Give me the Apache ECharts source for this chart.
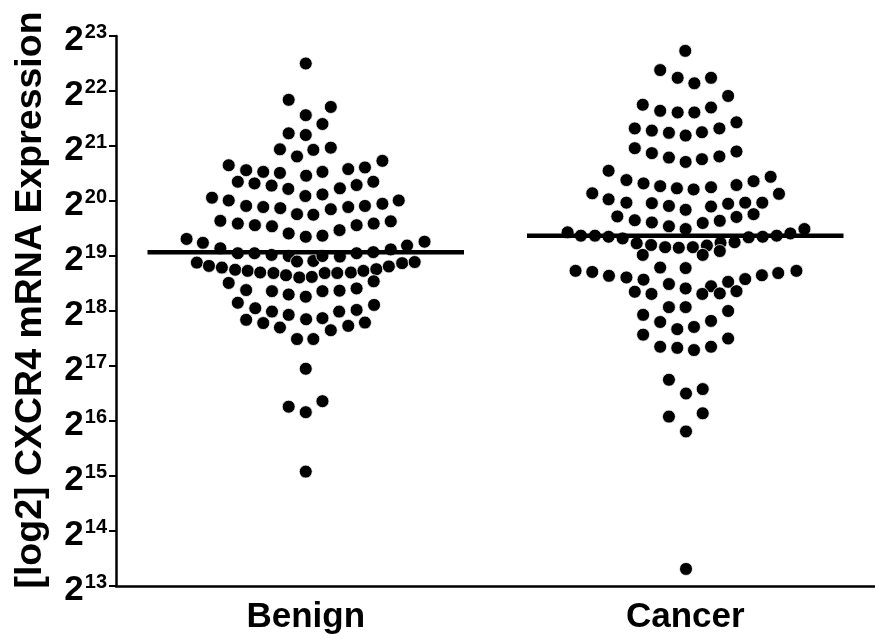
<!DOCTYPE html>
<html>
<head>
<meta charset="utf-8">
<script src="https://cdn.jsdelivr.net/npm/echarts@6/dist/echarts.min.js"></script>
<style>html,body{margin:0;padding:0;background:#fff}#c{width:875px;height:639px}</style>
</head>
<body>
<div id="c"></div>
<script>
var categories = ['Benign', 'Cancer'];
var yExponents = [13, 14, 15, 16, 17, 18, 19, 20, 21, 22, 23];
var yTitle = '[log2] CXCR4 mRNA Expression';

// log2 expression values
var benignValues = [
22.50,21.84,21.71,21.56,21.40,21.23,21.20,20.94,20.81,20.93,20.97,
20.65,20.56,20.53,20.51,20.46,20.53,20.58,20.61,20.73,
20.35,20.32,20.28,20.22,20.09,20.12,20.23,20.29,20.35,
20.06,20.01,19.91,19.89,19.87,19.76,19.75,19.85,19.89,19.91,19.95,20.01,
19.64,19.59,19.56,19.54,19.41,19.35,19.37,19.47,19.56,19.59,19.63,
19.31,19.24,19.14,19.05,19.05,19.02,19.00,18.90,18.91,19.00,18.99,19.05,19.07,19.12,19.19,19.26,
18.88,18.82,18.79,18.75,18.73,18.70,18.69,18.65,18.61,18.62,18.69,18.69,18.70,18.73,18.76,18.81,18.87,18.89,
18.51,18.38,18.36,18.30,18.26,18.36,18.37,18.41,18.54,
18.15,18.05,17.99,17.93,17.85,17.87,17.99,18.02,18.11,
17.84,17.78,17.70,17.49,17.49,17.65,17.73,17.79,
16.95,16.26,16.36,16.16,15.08
];
// horizontal scatter offset of each dot, in category widths
var benignJitter = [
0,-0.045,0.066,0,0.044,-0.045,0,-0.068,-0.023,0.020,0.066,
-0.203,-0.157,-0.112,-0.068,0.001,0.044,0.112,0.156,0.202,
-0.179,-0.135,-0.090,-0.046,-0.001,0.044,0.090,0.134,0.178,
-0.247,-0.203,-0.157,-0.112,-0.067,-0.023,0.020,0.066,0.112,0.156,0.202,0.245,
-0.225,-0.179,-0.134,-0.089,-0.045,0,0.044,0.089,0.134,0.179,0.224,
-0.314,-0.271,-0.225,-0.179,-0.135,-0.090,-0.045,-0.023,0.020,0.044,0.090,0.134,0.178,0.224,0.267,0.313,
-0.287,-0.255,-0.221,-0.186,-0.153,-0.120,-0.085,-0.052,-0.017,0.016,0.050,0.083,0.119,0.152,0.186,0.219,0.254,0.287,
-0.203,-0.157,-0.089,-0.045,0,0.044,0.089,0.134,0.179,
-0.179,-0.133,-0.089,-0.045,0.001,0.044,0.088,0.134,0.180,
-0.157,-0.112,-0.068,-0.023,0.020,0.066,0.112,0.156,
0,-0.045,0.044,0,0
];
var cancerValues = [
22.73,22.38,22.24,22.14,22.24,21.91,
21.75,21.64,21.61,21.61,21.70,
21.32,21.28,21.24,21.19,21.25,21.32,21.43,
20.96,20.87,20.79,20.71,20.76,20.81,20.90,
20.55,20.38,20.32,20.27,20.23,20.21,20.25,20.29,20.36,20.44,
20.14,20.03,19.97,19.96,19.91,19.84,19.90,19.95,19.97,19.97,20.13,
19.72,19.65,19.61,19.54,19.49,19.60,19.64,19.71,19.76,
19.43,19.37,19.37,19.35,19.32,19.23,19.20,19.16,19.15,19.16,19.19,19.24,19.25,19.34,19.35,19.37,19.41,19.49,
19.02,19.02,19.09,
18.73,18.71,18.64,18.61,18.57,18.49,18.41,18.45,18.53,18.58,18.65,18.69,18.73,
18.79,18.78,
18.35,18.31,18.31,18.32,18.36,
18.07,18.07,18.00,
17.93,17.80,17.67,17.71,17.82,
17.57,17.35,17.33,17.29,17.35,17.50,
16.75,16.50,16.58,16.08,16.14,15.81,13.31
];
var cancerJitter = [
0,-0.066,-0.020,0.024,0.068,0.113,
-0.112,-0.066,-0.020,0.024,0.068,
-0.133,-0.088,-0.043,0.001,0.044,0.090,0.135,
-0.133,-0.088,-0.043,0.001,0.044,0.090,0.135,
-0.202,-0.155,-0.110,-0.066,-0.022,0.022,0.068,0.135,0.180,0.225,
-0.245,-0.202,-0.155,-0.088,-0.043,0.001,0.068,0.113,0.158,0.203,0.247,
-0.179,-0.133,-0.088,-0.043,0.001,0.046,0.091,0.135,0.180,
-0.310,-0.275,-0.238,-0.202,-0.165,-0.128,-0.090,-0.053,-0.017,0.020,0.057,0.093,0.130,0.167,0.204,0.241,0.277,0.314,
-0.112,0.046,0.091,
-0.289,-0.245,-0.201,-0.155,-0.110,-0.043,0.001,0.068,0.113,0.158,0.202,0.245,0.293,
-0.066,0.001,
-0.133,-0.089,0.045,0.091,0.135,
-0.043,0.001,0.113,
-0.111,-0.066,-0.021,0.023,0.068,
-0.111,-0.066,-0.021,0.023,0.068,0.113,
-0.043,0.002,0.046,-0.043,0.046,0.002,0.002
];
var meanValues = [19.07, 19.37];

var FONT = '"Liberation Sans", Arial, Helvetica, sans-serif';
var lineHalf = 0.417;

function pts(values, jitter, idx) {
  return values.map(function (v, i) { return [idx + 0.5 + jitter[i], v]; });
}
var groups = [[benignValues, benignJitter], [cancerValues, cancerJitter]];

var series = [];
groups.forEach(function (g, idx) {
  series.push({
    type: 'line', xAxisIndex: 1, yAxisIndex: 0, symbol: 'none', silent: true,
    data: [[idx + 0.5 - lineHalf, meanValues[idx]], [idx + 0.5 + lineHalf, meanValues[idx]]],
    lineStyle: { color: '#000', width: 4.5 }, z: 3
  });
  series.push({
    type: 'scatter', xAxisIndex: 1, yAxisIndex: 0, symbol: 'circle', symbolSize: 13,
    data: pts(g[0], g[1], idx),
    itemStyle: { color: '#000', borderColor: '#fff', borderWidth: 0.8, opacity: 1 }, z: 2
  });
});

var chart = echarts.init(document.getElementById('c'), null, { renderer: 'canvas' });
chart.setOption({
  backgroundColor: '#fff',
  animation: false,
  grid: { left: 116, top: 36, width: 762, bottom: 53, containLabel: false },
  xAxis: [{
    type: 'category', data: categories, boundaryGap: true, position: 'bottom',
    axisLine: { lineStyle: { color: '#000', width: 2.5 } },
    axisTick: { alignWithLabel: true, length: 7, lineStyle: { color: '#000', width: 2 } },
    axisLabel: { color: '#000', fontFamily: FONT, fontWeight: 'bold', fontSize: 35, margin: 14 },
    splitLine: { show: false }
  }, {
    type: 'value', min: 0, max: 2, show: false, splitLine: { show: false }
  }],
  yAxis: [{
    type: 'value', min: 13, max: 23, interval: 1,
    name: yTitle, nameLocation: 'middle', nameRotate: 90, nameGap: 66,
    nameTextStyle: { color: '#000', fontFamily: FONT, fontWeight: 'bold', fontSize: 37.5, padding: [0, 0, 0, 22] },
    axisLine: { show: true, lineStyle: { color: '#000', width: 2.5 } },
    axisTick: { show: true, length: 7, lineStyle: { color: '#000', width: 2 } },
    splitLine: { show: false },
    axisLabel: {
      margin: 9, color: '#000',
      formatter: function (v) { return '{b|2}{s|' + v + '}'; },
      rich: {
        b: { fontFamily: FONT, fontWeight: 'bold', fontSize: 35, color: '#000', padding: [8, 0, 0, 0], lineHeight: 42 },
        s: { fontFamily: FONT, fontWeight: 'bold', fontSize: 20, color: '#000', verticalAlign: 'top', padding: [7, 0, 0, 1], lineHeight: 21 }
      }
    }
  }],
  series: series
});
</script>
</body>
</html>
